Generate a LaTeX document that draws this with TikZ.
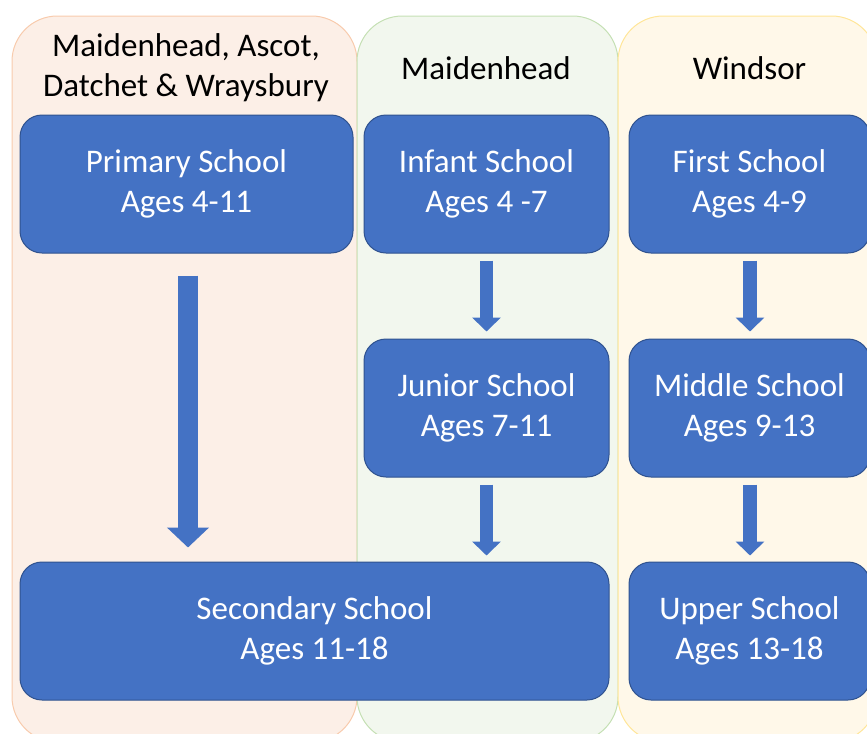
\documentclass[tikz,border=0pt]{standalone}
\usepackage{fontspec}
\setmainfont{Carlito}
\usetikzlibrary{arrows.meta,calc}

\definecolor{schoolblue}{RGB}{68,114,196}
\definecolor{schooledge}{RGB}{47,82,143}
\definecolor{areaorange}{RGB}{252,239,231}
\definecolor{edgeorange}{RGB}{248,203,173}
\definecolor{areagreen}{RGB}{242,247,238}
\definecolor{edgegreen}{RGB}{197,224,180}
\definecolor{areayellow}{RGB}{255,248,233}
\definecolor{edgeyellow}{RGB}{255,230,153}

\tikzset{every picture/.style={line width=0.75pt}}
\tikzset{
  school/.style={draw=schooledge, fill=schoolblue, text=white, rounded corners=16.5pt,
    align=center, inner sep=0pt, minimum height=103.5pt, font=\fontsize{24.75}{30}\selectfont},
  area/.style={rounded corners=34pt},
  areatitle/.style={align=center, font=\fontsize{24.75}{30}\selectfont},
  flow/.style={draw=schoolblue, line width=10pt, -{Triangle[length=10.5pt,width=21pt]}},
  bigflow/.style={draw=schoolblue, line width=15pt, -{Triangle[length=15pt,width=30.75pt]}},
}

\begin{document}
\begin{tikzpicture}[x=0.75pt,y=0.75pt,yscale=-1,xscale=1]
	\useasboundingbox (0,0) rectangle (867,733);
	\clip (0,0) rectangle (867,733);

	%Shape: Rounded Rect [areas]
	\draw [area, draw=edgeorange, fill=areaorange] (12,16) rectangle (357,742);
	\draw [area, draw=edgegreen, fill=areagreen] (357,16) rectangle (618,742);
	\draw [area, draw=edgeyellow, fill=areayellow] (618,16) rectangle (877,742);

	% Text Node
	\node [areatitle] (titleA) at (186,68) {Maidenhead, Ascot,\\Datchet \& Wraysbury};
	\node [areatitle] (titleM) at (486,68) {Maidenhead};
	\node [areatitle] (titleW) at (749.5,68) {Windsor};

	%Shape: Rounded Rect [schools]
	\node [school, minimum width=249.75pt] (primary) at (186.5,184) {Primary School\\Ages 4-11};
	\node [school, minimum width=183.75pt] (infant) at (486.5,184) {Infant School\\Ages 4 -7};
	\node [school, minimum width=180.75pt] (first) at (749.5,184) {First School\\Ages 4-9};
	\node [school, minimum width=183.75pt] (junior) at (486.5,408) {Junior School\\Ages 7-11};
	\node [school, minimum width=180.75pt] (middle) at (749.5,408) {Middle School\\Ages 9-13};
	\node [school, minimum width=441.75pt] (secondary) at (314.5,631) {Secondary School\\Ages 11-18};
	\node [school, minimum width=180.75pt] (upper) at (749.5,631) {Upper School\\Ages 13-18};

	%Block Arrows
	\draw [bigflow] ($(primary.south)+(1.5,22)$) -- ($(secondary.north -| primary.south)+(1.5,-14)$);
	\draw [flow] ($(infant.south)+(0,7)$) -- ($(junior.north)+(0,-7)$);
	\draw [flow] ($(junior.south)+(0,7)$) -- ($(secondary.north -| junior.south)+(0,-6)$);
	\draw [flow] ($(first.south)+(0.5,7)$) -- ($(middle.north)+(0.5,-7)$);
	\draw [flow] ($(middle.south)+(0.5,7)$) -- ($(upper.north)+(0.5,-6)$);

\end{tikzpicture}
\end{document}
